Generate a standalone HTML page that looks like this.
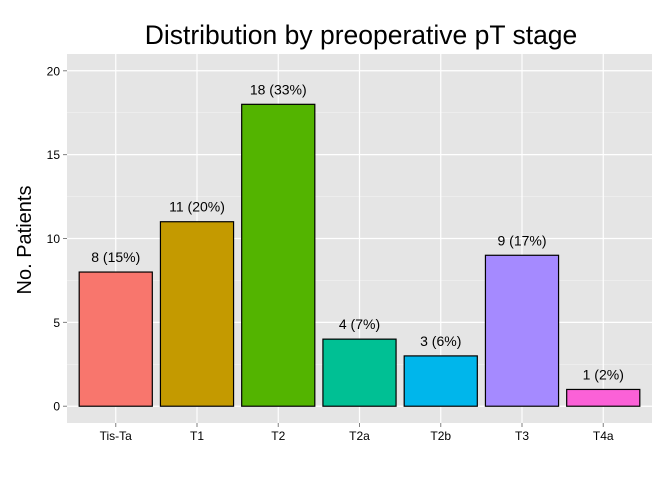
<!DOCTYPE html>
<html><head><meta charset="utf-8"><style>
body{margin:0;background:#fff;}
svg{display:block;font-family:"Liberation Sans",sans-serif;}
</style></head><body>
<svg id="chart" width="672" height="480">
<rect x="0" y="0" width="672" height="480" fill="#fff"/>
<text x="361" y="44" font-size="26.5" text-anchor="middle" fill="#000">Distribution by preoperative pT stage</text>
<text transform="translate(31,240) rotate(-90)" font-size="20" text-anchor="middle" fill="#000">No. Patients</text>
<g id="plot"></g>
</svg>
<script>
const categories=["Tis-Ta","T1","T2","T2a","T2b","T3","T4a"];
const counts=[8,11,18,4,3,9,1];
const labels=["8 (15%)","11 (20%)","18 (33%)","4 (7%)","3 (6%)","9 (17%)","1 (2%)"];
const colors=["#F8766D","#C49A00","#53B400","#00C094","#00B6EB","#A58AFF","#FB61D7"];
const yTicks=[0,5,10,15,20];

const NS="http://www.w3.org/2000/svg";
const g=document.getElementById('plot');
const pL=67,pR=652,pT=54,pB=423;
const yMin=-1,yMax=21;
function y(v){return pB-(v-yMin)/(yMax-yMin)*(pB-pT);}
const step=(pR-pL)/(categories.length+0.2);
function x(i){return pL+step*(0.6+i);}
function el(t,a){const e=document.createElementNS(NS,t);for(const k in a)e.setAttribute(k,a[k]);g.appendChild(e);return e;}
const panel=el('rect',{x:pL,y:pT,width:pR-pL,height:pB-pT,fill:'#E5E5E5'});


for(let i=0;i<yTicks.length-1;i++){
  const m=(yTicks[i]+yTicks[i+1])/2;
  const l=el('line',{x1:pL,x2:pR,y1:y(m),y2:y(m),stroke:'#F2F2F2','stroke-width':0.6});
  
  
}
yTicks.forEach(t=>{
  const l=el('line',{x1:pL,x2:pR,y1:y(t),y2:y(t),stroke:'#fff','stroke-width':1.2});
  
  
  const tk=el('line',{x1:pL-4,x2:pL,y1:y(t),y2:y(t),stroke:'#7F7F7F'});
  
  
  const tx=el('text',{x:pL-7,y:y(t)+4.5,'font-size':12,'text-anchor':'end',fill:'#000'});
  tx.textContent=t;
  
  
});
categories.forEach((c,i)=>{
  const l=el('line',{x1:x(i),x2:x(i),y1:pT,y2:pB,stroke:'#fff','stroke-width':1.2});
  
  
});
const bw=step*0.9;
categories.forEach((c,i)=>{
  const b=el('rect',{x:x(i)-bw/2,y:y(counts[i]),width:bw,height:y(0)-y(counts[i]),fill:colors[i],stroke:'#000','stroke-width':1.2});
  
  
  const lb=el('text',{x:x(i),y:y(counts[i])-10,'font-size':14,'text-anchor':'middle',fill:'#000'});
  lb.textContent=labels[i];
  
  
  const tk=el('line',{x1:x(i),x2:x(i),y1:pB,y2:pB+4,stroke:'#7F7F7F'});
  
  
  const tx=el('text',{x:x(i),y:pB+17,'font-size':12,'text-anchor':'middle',fill:'#000'});
  tx.textContent=c;
  
  
});
</script>
</body></html>
